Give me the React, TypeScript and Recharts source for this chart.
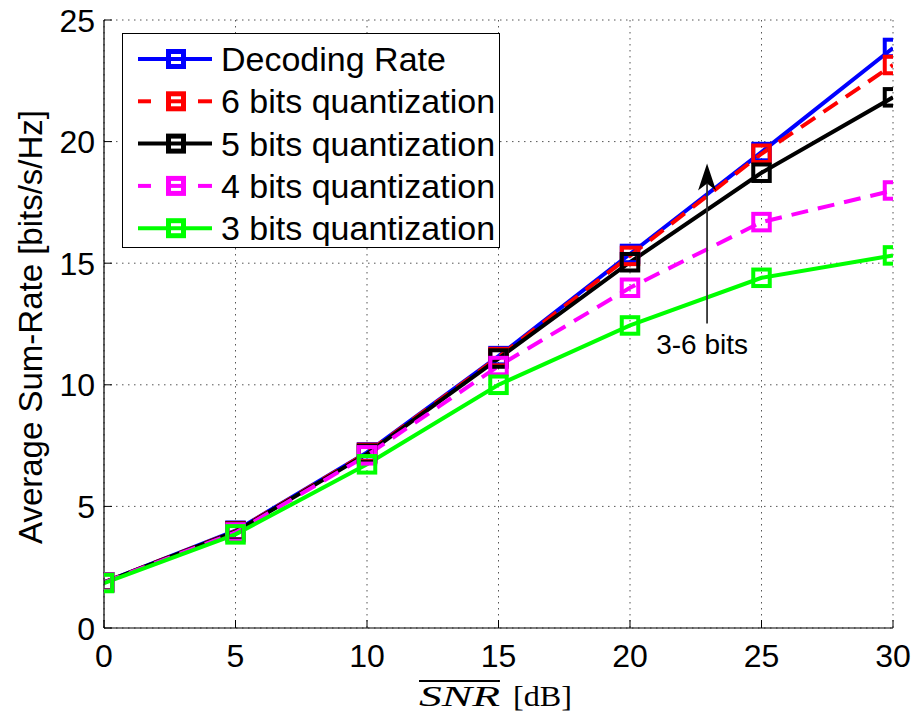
import React from 'react';
import { LineChart, Line, XAxis, YAxis, CartesianGrid, Legend, ReferenceLine } from 'recharts';

const snr = [0, 5, 10, 15, 20, 25, 30];
const decodingRate = [1.88, 4.0, 7.22, 11.18, 15.38, 19.57, 23.85];
const bits6 = [1.88, 3.98, 7.2, 11.14, 15.3, 19.5, 23.15];
const bits5 = [1.88, 3.96, 7.16, 11.08, 15.04, 18.72, 21.82];
const bits4 = [1.87, 3.93, 7.1, 10.77, 13.99, 16.69, 17.99];
const bits3 = [1.85, 3.85, 6.73, 10.0, 12.44, 14.4, 15.32];

const xTicks = [0, 5, 10, 15, 20, 25, 30];
const yTicks = [0, 5, 10, 15, 20, 25];

const annotationText = '3-6 bits';
const annotationX = 22.93;
const annotationFromY = 12.52;
const annotationToY = 19.1;

const series = [
  { key: 'decoding', name: 'Decoding Rate', color: '#0000ff', dashed: false, values: decodingRate },
  { key: 'b6', name: '6 bits quantization', color: '#ff0000', dashed: true, values: bits6 },
  { key: 'b5', name: '5 bits quantization', color: '#000000', dashed: false, values: bits5 },
  { key: 'b4', name: '4 bits quantization', color: '#ff00ff', dashed: true, values: bits4 },
  { key: 'b3', name: '3 bits quantization', color: '#00ff00', dashed: false, values: bits3 },
];

const data = snr.map((s, i) => {
  const row: any = { snr: s };
  series.forEach((se) => (row[se.key] = se.values[i]));
  return row;
});

const FONT = '"Liberation Sans", Arial, Helvetica, sans-serif';
const SERIF = '"Liberation Serif", "DejaVu Serif", serif';

const SquareDot = (color: string) => (props: any) => {
  const { cx, cy } = props;
  if (cx == null || cy == null) return null;
  const s = 16.5;
  return <rect x={cx - s / 2} y={cy - s / 2} width={s} height={s} fill="none" stroke={color} strokeWidth={4} />;
};

const BottomTick = (props: any) => {
  const { x, y, payload } = props;
  return (
    <g>
      <line x1={x} y1={y} x2={x} y2={y - 8} stroke="#000" strokeWidth={1} />
      <text x={x} y={y + 39} textAnchor="middle" fontSize={32} fontFamily={FONT} fill="#000">{payload.value}</text>
    </g>
  );
};

const LeftTick = (props: any) => {
  const { x, y, payload } = props;
  return (
    <g>
      <line x1={x} y1={y} x2={x + 8} y2={y} stroke="#000" strokeWidth={1} />
      <text x={x - 9} y={y + 11.5} textAnchor="end" fontSize={32} fontFamily={FONT} fill="#000">{payload.value}</text>
    </g>
  );
};

const TopTick = (props: any) => {
  const { x, y } = props;
  return <line x1={x} y1={y} x2={x} y2={y + 8} stroke="#000" strokeWidth={1} />;
};

const RightTick = (props: any) => {
  const { x, y } = props;
  return <line x1={x} y1={y} x2={x - 8} y2={y} stroke="#000" strokeWidth={1} />;
};

const LegendContent = () => {
  const rowH = 42.3;
  return (
    <div style={{ width: 378, height: 215, border: '1.5px solid #000', background: '#fff', boxSizing: 'border-box' }}>
      <svg width={375} height={212} style={{ display: 'block' }}>
        {series.map((se, i) => {
          const cy = 25 + i * rowH;
          return (
            <g key={se.key}>
              {se.dashed ? (
                <>
                  <line x1={15} y1={cy} x2={28} y2={cy} stroke={se.color} strokeWidth={4} />
                  <line x1={75} y1={cy} x2={89} y2={cy} stroke={se.color} strokeWidth={4} />
                </>
              ) : (
                <line x1={15} y1={cy} x2={89} y2={cy} stroke={se.color} strokeWidth={4} />
              )}
              <rect x={53 - 7.5} y={cy - 7.5} width={15} height={15} fill="none" stroke={se.color} strokeWidth={5} />
              {se.dashed ? <line x1={48} y1={cy} x2={58} y2={cy} stroke={se.color} strokeWidth={4} /> : null}
              <text x={98} y={cy + 12} fontSize={34} fontFamily={FONT} fill="#000">{se.name}</text>
            </g>
          );
        })}
      </svg>
    </div>
  );
};

const ArrowShape = (props: any) => {
  const { x1, y1, x2, y2 } = props;
  if (x1 == null) return null;
  const bottomY = Math.max(y1, y2);
  const topY = Math.min(y1, y2);
  return (
    <g>
      <line x1={x1} y1={bottomY} x2={x1} y2={topY + 20} stroke="#333" strokeWidth={1.8} />
      <path d={`M ${x1} ${topY} L ${x1 - 9} ${topY + 27} L ${x1} ${topY + 20} L ${x1 + 9} ${topY + 27} Z`} fill="#000" />
      <text x={x1 - 5} y={bottomY + 30} textAnchor="middle" fontSize={28} fontFamily={FONT} fill="#000">{annotationText}</text>
    </g>
  );
};

export default function App() {
  return (
    <div style={{ position: 'absolute', left: 0, top: 0, width: 916, height: 719, background: '#fff' }}>
      <LineChart width={916} height={719} data={data} margin={{ top: 20, right: 23, bottom: 0, left: 0 }}>
        <CartesianGrid stroke="#555" strokeDasharray="1.5 4.5" strokeWidth={1} />
        <XAxis
          dataKey="snr"
          type="number"
          domain={[0, 30]}
          ticks={xTicks}
          allowDataOverflow
          height={91}
          tickLine={false}
          tickSize={0}
          tickMargin={0}
          axisLine={{ stroke: '#000', strokeWidth: 1.2 }}
          tick={BottomTick}
          interval={0}
        />
        <XAxis
          xAxisId="top"
          orientation="top"
          type="number"
          domain={[0, 30]}
          ticks={xTicks}
          allowDataOverflow
          height={0}
          tickLine={false}
          tickSize={0}
          tickMargin={0}
          axisLine={{ stroke: '#000', strokeWidth: 1.2 }}
          tick={TopTick}
          interval={0}
        />
        <YAxis
          type="number"
          domain={[0, 25]}
          ticks={yTicks}
          allowDataOverflow
          width={104}
          tickLine={false}
          tickSize={0}
          tickMargin={0}
          axisLine={{ stroke: '#000', strokeWidth: 1.2 }}
          tick={LeftTick}
          interval={0}
          label={() => (
            <text
              x={42}
              y={327}
              transform="rotate(-90, 42, 327)"
              textAnchor="middle"
              fontSize={33}
              fontFamily={FONT}
              fill="#000"
            >
              Average Sum-Rate [bits/s/Hz]
            </text>
          )}
        />
        <YAxis
          yAxisId="right"
          orientation="right"
          type="number"
          domain={[0, 25]}
          ticks={yTicks}
          allowDataOverflow
          width={0}
          tickLine={false}
          tickSize={0}
          tickMargin={0}
          axisLine={{ stroke: '#000', strokeWidth: 1.2 }}
          tick={RightTick}
          interval={0}
        />
        {series.map((se) => (
          <Line
            key={se.key}
            dataKey={se.key}
            name={se.name}
            stroke={se.color}
            strokeWidth={4}
            strokeDasharray={se.dashed ? '17 10' : undefined}
            dot={SquareDot(se.color)}
            activeDot={false}
            isAnimationActive={false}
          />
        ))}
        <ReferenceLine
          segment={[{ x: annotationX, y: annotationFromY }, { x: annotationX, y: annotationToY }]}
          shape={ArrowShape}
        />
        <Legend
          layout="vertical"
          align="center"
          verticalAlign="middle"
          content={LegendContent}
          wrapperStyle={{ position: 'absolute', left: 122, top: 33, width: 378, height: 215 }}
        />
      </LineChart>
      <svg width={916} height={719} style={{ position: 'absolute', left: 0, top: 0, pointerEvents: 'none' }}>
        <line x1={419} y1={681} x2={500} y2={681} stroke="#000" strokeWidth={1.8} />
        <text x={419} y={706} fontSize={30} fontFamily={SERIF} fontStyle="italic" fill="#000" textLength={81} lengthAdjust="spacingAndGlyphs">SNR</text>
        <text x={513} y={706} fontSize={30} fontFamily={SERIF} fill="#000" textLength={59} lengthAdjust="spacingAndGlyphs">[dB]</text>
      </svg>
    </div>
  );
}
